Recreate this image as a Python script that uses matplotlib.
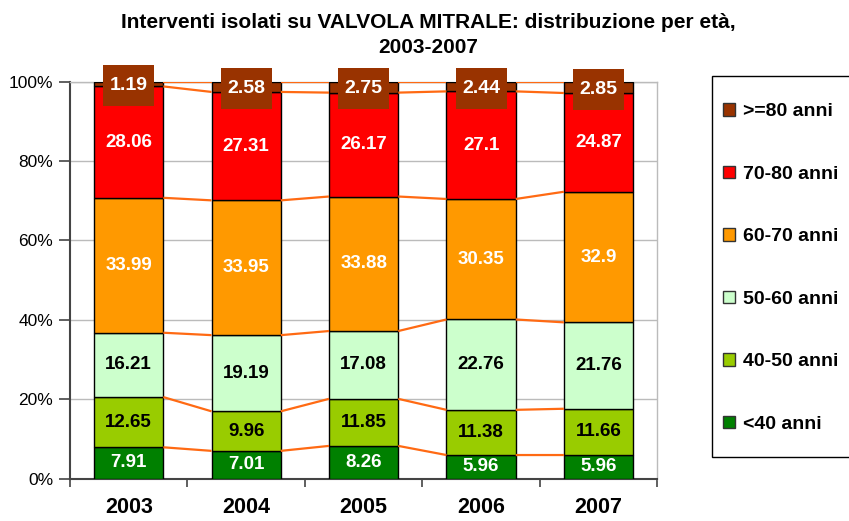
import matplotlib.pyplot as plt
from matplotlib.patches import Rectangle
import numpy as np

plt.rcParams['font.family'] = ['Liberation Sans', 'DejaVu Sans']

years = ['2003', '2004', '2005', '2006', '2007']
groups = ['<40 anni', '40-50 anni', '50-60 anni', '60-70 anni', '70-80 anni', '>=80 anni']
under40 = [7.91, 7.01, 8.26, 5.96, 5.96]
age40_50 = [12.65, 9.96, 11.85, 11.38, 11.66]
age50_60 = [16.21, 19.19, 17.08, 22.76, 21.76]
age60_70 = [33.99, 33.95, 33.88, 30.35, 32.9]
age70_80 = [28.06, 27.31, 26.17, 27.1, 24.87]
over80 = [1.19, 2.58, 2.75, 2.44, 2.85]

series = [under40, age40_50, age50_60, age60_70, age70_80, over80]
colors = ['#008000', '#99CC00', '#CCFFCC', '#FF9900', '#FF0000', '#993300']
text_colors = ['white', 'black', 'black', 'white', 'white', 'white']

vals = np.array(series, dtype=float)
pct = vals / vals.sum(axis=0) * 100

fig = plt.figure(figsize=(8.49, 5.21), dpi=100)
ax = fig.add_axes([0.0824, 0.0812, 0.6918, 0.762])

x = np.arange(len(years))
width = 0.59
bottom = np.zeros(len(years))
handles = []
for i, g in enumerate(groups):
    b = ax.bar(x, pct[i], width, bottom=bottom, color=colors[i],
               edgecolor='black', linewidth=1, label=g, zorder=3)
    handles.append(b)
    for j in range(len(years)):
        yc = bottom[j] + pct[i][j] / 2
        txt = '%g' % vals[i][j]
        if i == len(groups) - 1:
            # label box for the thin top segment
            ax.add_patch(Rectangle((x[j] - 0.217, yc - 0.45 - 5.15), 0.434, 10.3,
                                   facecolor=colors[i], edgecolor='none', zorder=6,
                                   clip_on=False))
            ax.text(x[j], yc - 0.45, txt, ha='center', va='center', color='white',
                    fontsize=14, fontweight='bold', zorder=7)
        else:
            ax.text(x[j], yc, txt, ha='center', va='center', color=text_colors[i],
                    fontsize=13.5, fontweight='bold', zorder=5)
    bottom = bottom + pct[i]
    # series lines between bars
    for j in range(len(years) - 1):
        ax.plot([x[j] + width / 2, x[j + 1] - width / 2], [bottom[j], bottom[j + 1]],
                color='#FF6A13', linewidth=1.6, zorder=4, solid_capstyle='butt')

ax.set_xlim(-0.5, len(years) - 0.5)
ax.set_ylim(0, 100)
ax.set_yticks([0, 20, 40, 60, 80, 100])
ax.set_yticklabels(['0%', '20%', '40%', '60%', '80%', '100%'], fontsize=12.5)
ax.yaxis.grid(True, color='#BBBBBB', linewidth=1, zorder=0)
ax.set_axisbelow(True)
ax.tick_params(axis='y', direction='out', length=8, width=1.2, color='#444444', pad=4)

ax.set_xticks(x)
ax.set_xticklabels(years, fontsize=15.5, fontweight='bold')
ax.tick_params(axis='x', which='major', length=0, pad=13)
ax.set_xticks(np.arange(len(years) + 1) - 0.5, minor=True)
ax.tick_params(axis='x', which='minor', direction='out', length=6, width=1.2, color='#444444')

for s in ['top', 'right']:
    ax.spines[s].set_color('#BBBBBB')
    ax.spines[s].set_linewidth(1)
for s in ['left', 'bottom']:
    ax.spines[s].set_color('#444444')
    ax.spines[s].set_linewidth(1.5)

fig.text(428 / 849, 1 - 22 / 521, 'Interventi isolati su VALVOLA MITRALE: distribuzione per età,',
         ha='center', va='center', fontsize=15, fontweight='bold')
fig.text(428 / 849, 1 - 47 / 521, '2003-2007', ha='center', va='center',
         fontsize=15, fontweight='bold')

# legend frame, running past the right edge of the figure
fig.patches.append(Rectangle((712 / 849, 1 - 457 / 521), 160 / 849, 381 / 521,
                             transform=fig.transFigure, facecolor='white',
                             edgecolor='black', linewidth=1, zorder=-1))
leg = ax.legend(handles[::-1], groups[::-1], loc='upper left',
                bbox_to_anchor=(723 / 849, 1 - 103 / 521), bbox_transform=fig.transFigure,
                borderaxespad=0, frameon=False,
                prop={'size': 14, 'weight': 'bold'}, handlelength=0.63, handleheight=0.63,
                handletextpad=0.42, labelspacing=2.33, borderpad=0)
for h in leg.legend_handles:
    h.set_edgecolor('#333333')

fig.savefig('out.png', dpi=100)
